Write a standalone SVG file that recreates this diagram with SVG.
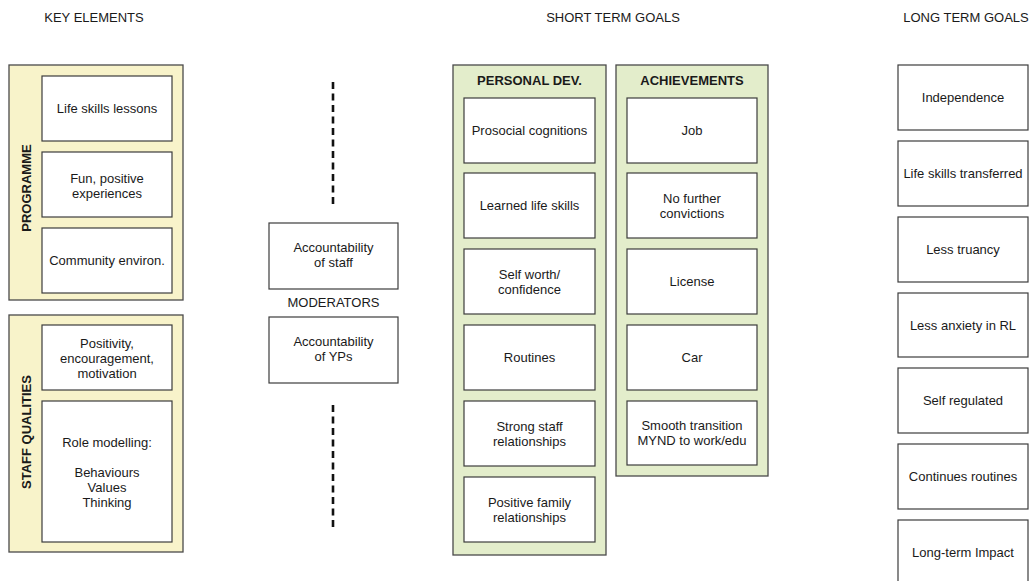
<svg xmlns="http://www.w3.org/2000/svg" width="1031" height="581" viewBox="0 0 1031 581">
  <style>
    text { font-family: "Liberation Sans", Arial, Helvetica, sans-serif; font-size: 13px; fill: #1a1a1a; text-anchor: middle; }
    .hdr { font-size: 13px; }
    .bold { font-weight: bold; }
    .box { fill: #ffffff; stroke: #3c3c3c; stroke-width: 1.2; }
    .grp-y { fill: #f8f3ca; stroke: #4a4a4a; stroke-width: 1.3; }
    .grp-g { fill: #e3edcb; stroke: #4a4a4a; stroke-width: 1.3; }
    .dash { stroke: #111; stroke-width: 2.6; stroke-dasharray: 7 4.5; fill: none; }
  </style>
  <rect width="1031" height="581" fill="#ffffff"/>

  <!-- column headings -->
  <g id="headings">
    <text class="hdr" x="94" y="22">KEY ELEMENTS</text>
    <text class="hdr" x="613" y="22">SHORT TERM GOALS</text>
    <text class="hdr" x="966" y="22">LONG TERM GOALS</text>
  </g>

  <!-- key elements: programme -->
  <g id="programme">
    <rect class="grp-y" x="9" y="65" width="174" height="235"/>
    <text class="bold" transform="translate(31 188) rotate(-90)">PROGRAMME</text>
    <g id="life-skills-lessons">
      <rect class="box" x="42" y="76" width="130" height="65"/>
      <text x="107" y="113">Life skills lessons</text>
    </g>
    <g id="fun-positive">
      <rect class="box" x="42" y="152" width="130" height="65"/>
      <text x="107" y="182.5">Fun, positive</text>
      <text x="107" y="197.5">experiences</text>
    </g>
    <g id="community-environ">
      <rect class="box" x="42" y="228" width="130" height="65"/>
      <text x="107" y="265">Community environ.</text>
    </g>
  </g>

  <!-- key elements: staff qualities -->
  <g id="staff-qualities">
    <rect class="grp-y" x="9" y="315" width="174" height="237"/>
    <text class="bold" transform="translate(31 432) rotate(-90)">STAFF QUALITIES</text>
    <g id="positivity">
      <rect class="box" x="42" y="325" width="130" height="65"/>
      <text x="107" y="347.5">Positivity,</text>
      <text x="107" y="362.5">encouragement,</text>
      <text x="107" y="377.5">motivation</text>
    </g>
    <g id="role-modelling">
      <rect class="box" x="42" y="401" width="130" height="141"/>
      <text x="107" y="447">Role modelling:</text>
      <text x="107" y="477">Behaviours</text>
      <text x="107" y="492">Values</text>
      <text x="107" y="507">Thinking</text>
    </g>
  </g>

  <!-- moderators -->
  <g id="connectors">
    <line class="dash" x1="333" y1="82" x2="333" y2="206"/>
    <line class="dash" x1="333" y1="405" x2="333" y2="531"/>
  </g>
  <g id="moderators">
    <text x="333.5" y="307">MODERATORS</text>
    <g id="accountability-staff">
      <rect class="box" x="269" y="223" width="129" height="66"/>
      <text x="333.5" y="252">Accountability</text>
      <text x="333.5" y="267">of staff</text>
    </g>
    <g id="accountability-yps">
      <rect class="box" x="269" y="317" width="129" height="66"/>
      <text x="333.5" y="346">Accountability</text>
      <text x="333.5" y="361">of YPs</text>
    </g>
  </g>

  <!-- short term goals: personal development -->
  <g id="personal-dev">
    <rect class="grp-g" x="453" y="65" width="153" height="490"/>
    <text class="bold" x="529.5" y="84.5">PERSONAL DEV.</text>
    <g id="prosocial">
      <rect class="box" x="464" y="98" width="131" height="65"/>
      <text x="529.5" y="135">Prosocial cognitions</text>
    </g>
    <g id="learned-life-skills">
      <rect class="box" x="464" y="173" width="131" height="65"/>
      <text x="529.5" y="210">Learned life skills</text>
    </g>
    <g id="self-worth">
      <rect class="box" x="464" y="249" width="131" height="65"/>
      <text x="529.5" y="279">Self worth/</text>
      <text x="529.5" y="294">confidence</text>
    </g>
    <g id="routines">
      <rect class="box" x="464" y="325" width="131" height="65"/>
      <text x="529.5" y="362">Routines</text>
    </g>
    <g id="staff-relationships">
      <rect class="box" x="464" y="401" width="131" height="65"/>
      <text x="529.5" y="431">Strong staff</text>
      <text x="529.5" y="446">relationships</text>
    </g>
    <g id="family-relationships">
      <rect class="box" x="464" y="477" width="131" height="65"/>
      <text x="529.5" y="507">Positive family</text>
      <text x="529.5" y="522">relationships</text>
    </g>
  </g>

  <!-- short term goals: achievements -->
  <g id="achievements">
    <rect class="grp-g" x="616" y="65" width="152" height="411"/>
    <text class="bold" x="692" y="84.5">ACHIEVEMENTS</text>
    <g id="job">
      <rect class="box" x="627" y="98" width="130" height="65"/>
      <text x="692" y="135">Job</text>
    </g>
    <g id="no-convictions">
      <rect class="box" x="627" y="173" width="130" height="65"/>
      <text x="692" y="203">No further</text>
      <text x="692" y="218">convictions</text>
    </g>
    <g id="license">
      <rect class="box" x="627" y="249" width="130" height="65"/>
      <text x="692" y="286">License</text>
    </g>
    <g id="car">
      <rect class="box" x="627" y="325" width="130" height="65"/>
      <text x="692" y="362">Car</text>
    </g>
    <g id="smooth-transition">
      <rect class="box" x="627" y="401" width="130" height="64"/>
      <text x="692" y="430">Smooth transition</text>
      <text x="692" y="445">MYND to work/edu</text>
    </g>
  </g>

  <!-- long term goals -->
  <g id="long-term">
    <g id="independence">
      <rect class="box" x="898" y="65" width="130" height="65"/>
      <text x="963" y="102">Independence</text>
    </g>
    <g id="skills-transferred">
      <rect class="box" x="898" y="141" width="130" height="65"/>
      <text x="963" y="178">Life skills transferred</text>
    </g>
    <g id="less-truancy">
      <rect class="box" x="898" y="217" width="130" height="65"/>
      <text x="963" y="254">Less truancy</text>
    </g>
    <g id="less-anxiety">
      <rect class="box" x="898" y="293" width="130" height="64"/>
      <text x="963" y="329.5">Less anxiety in RL</text>
    </g>
    <g id="self-regulated">
      <rect class="box" x="898" y="368" width="130" height="65"/>
      <text x="963" y="405">Self regulated</text>
    </g>
    <g id="continues-routines">
      <rect class="box" x="898" y="444" width="130" height="65"/>
      <text x="963" y="481">Continues routines</text>
    </g>
    <g id="long-term-impact">
      <rect class="box" x="898" y="520" width="130" height="70"/>
      <text x="963" y="557">Long-term Impact</text>
    </g>
  </g>
</svg>
